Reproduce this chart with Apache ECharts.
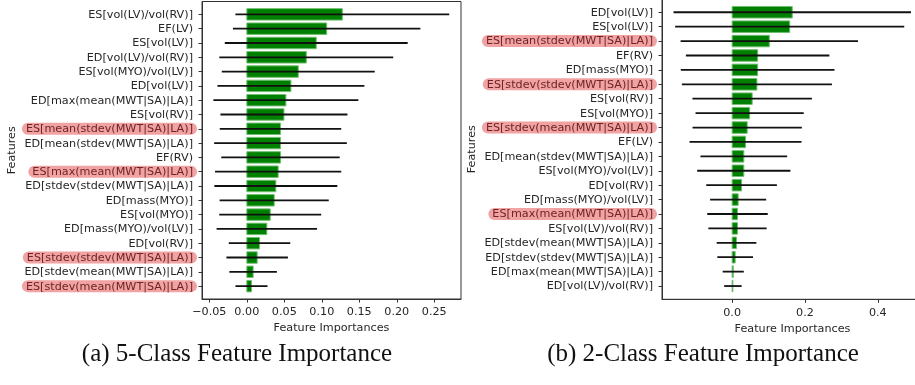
<!DOCTYPE html>
<html>
<head>
<meta charset="utf-8">
<script src="https://cdn.jsdelivr.net/npm/echarts@6/dist/echarts.min.js"></script>
<style>html,body{margin:0;padding:0;background:#fff;}#c{width:915px;height:385px;}</style>
</head>
<body>
<div id="c"></div>
<script>
// ---- Panel (a): 5-class ----
const namesA = [
  'ES[vol(LV)/vol(RV)]','EF(LV)','ES[vol(LV)]','ED[vol(LV)/vol(RV)]','ES[vol(MYO)/vol(LV)]',
  'ED[vol(LV)]','ED[max(mean(MWT|SA)|LA)]','ES[vol(RV)]','ES[mean(stdev(MWT|SA)|LA)]','ED[mean(stdev(MWT|SA)|LA)]',
  'EF(RV)','ES[max(mean(MWT|SA)|LA)]','ED[stdev(stdev(MWT|SA)|LA)]','ED[mass(MYO)]','ES[vol(MYO)]',
  'ED[mass(MYO)/vol(LV)]','ED[vol(RV)]','ES[stdev(stdev(MWT|SA)|LA)]','ED[stdev(mean(MWT|SA)|LA)]','ES[stdev(mean(MWT|SA)|LA)]'
];
const meanA = [0.1274,0.1065,0.0926,0.0793,0.0686,0.0588,0.0521,0.0495,0.0449,0.0449,
               0.0449,0.0418,0.0387,0.0365,0.0312,0.0267,0.0169,0.0138,0.0084,0.0062];
const stdA  = [0.1426,0.1250,0.1220,0.1160,0.1020,0.0980,0.0967,0.0847,0.0810,0.0885,
               0.0790,0.0842,0.0820,0.0728,0.0680,0.0670,0.0410,0.0410,0.0317,0.0214];
const highlightA = ['ES[mean(stdev(MWT|SA)|LA)]','ES[max(mean(MWT|SA)|LA)]','ES[stdev(stdev(MWT|SA)|LA)]','ES[stdev(mean(MWT|SA)|LA)]'];
const ticksA = [-0.05,0,0.05,0.10,0.15,0.20,0.25];

// ---- Panel (b): 2-class ----
const namesB = [
  'ED[vol(LV)]','ES[vol(LV)]','ES[mean(stdev(MWT|SA)|LA)]','EF(RV)','ED[mass(MYO)]',
  'ES[stdev(stdev(MWT|SA)|LA)]','ES[vol(RV)]','ES[vol(MYO)]','ES[stdev(mean(MWT|SA)|LA)]','EF(LV)',
  'ED[mean(stdev(MWT|SA)|LA)]','ES[vol(MYO)/vol(LV)]','ED[vol(RV)]','ED[mass(MYO)/vol(LV)]','ES[max(mean(MWT|SA)|LA)]',
  'ES[vol(LV)/vol(RV)]','ED[stdev(mean(MWT|SA)|LA)]','ED[stdev(stdev(MWT|SA)|LA)]','ED[max(mean(MWT|SA)|LA)]','ED[vol(LV)/vol(RV)]'
];
const meanB = [0.165,0.158,0.102,0.070,0.070,0.068,0.055,0.048,0.0413,0.0367,
               0.032,0.032,0.0258,0.0165,0.0147,0.0147,0.012,0.0083,0.003,0.002];
const stdB  = [0.326,0.3145,0.2435,0.197,0.211,0.206,0.164,0.1485,0.150,0.1537,
               0.119,0.128,0.097,0.077,0.083,0.080,0.0545,0.049,0.029,0.024];
const highlightB = ['ES[mean(stdev(MWT|SA)|LA)]','ES[stdev(stdev(MWT|SA)|LA)]','ES[stdev(mean(MWT|SA)|LA)]','ES[max(mean(MWT|SA)|LA)]'];
const ticksB = [0,0.2,0.4];

const captionA = '(a) 5-Class Feature Importance';
const captionB = '(b) 2-Class Feature Importance';

const FONT = 'DejaVu Sans';
const FS = 11.2;
const n = 20;
const rowIdx = Array.from({length:n},(_,i)=>i);

function toData(means, stds){
  return means.map((m,i)=>[m, stds[i], n-1-i]);
}
function labelFmt(names, hl){
  return function(v){
    const i = n-1-Math.round(v);
    const nm = names[i];
    if (nm === undefined) return '';
    return (hl.indexOf(nm) >= 0 ? '{h|' : '{n|') + nm + '}';
  };
}
const rich = {
  n:{fontFamily:FONT,fontSize:FS,color:'#262626',padding:[1,4,0,4]},
  h:{fontFamily:FONT,fontSize:FS,color:'#6e2424',backgroundColor:'#f1a2a2',borderRadius:7,padding:[1,4,0,4]}
};
function renderItem(params, api){
  const v = api.value(0), s = api.value(1), y = api.value(2);
  const p0 = api.coord([0,y]);
  const p1 = api.coord([v,y]);
  const h = api.size([0,0.8])[1];
  const e0 = api.coord([v-s,y]);
  const e1 = api.coord([v+s,y]);
  return {type:'group',children:[
    {type:'rect',shape:{x:p0[0],y:p0[1]-h/2,width:p1[0]-p0[0],height:h},
     style:{fill:'#008000',stroke:'#6fbf6f',lineWidth:1}},
    {type:'line',shape:{x1:e0[0],y1:e0[1],x2:e1[0],y2:e1[1]},
     style:{stroke:'#111',lineWidth:1.8}}
  ]};
}
function xAxis(idx,min,max,ticks,dec){
  return {type:'value',gridIndex:idx,min:min,max:max,
    name:'Feature Importances',nameLocation:'middle',nameGap:24,
    nameTextStyle:{fontFamily:FONT,fontSize:FS,color:'#262626'},
    axisLine:{show:true,onZero:false,lineStyle:{color:'#333',width:1}},
    axisTick:{show:true,length:3.5,customValues:ticks,lineStyle:{color:'#333'}},
    axisLabel:{show:true,customValues:ticks,margin:8,fontFamily:FONT,fontSize:FS,color:'#262626',
      formatter:v=> (v<0?'\u2212':'')+Math.abs(v).toFixed(dec)},
    splitLine:{show:false}};
}
function yAxis(idx,min,max,names,hl,gap){
  return {type:'value',gridIndex:idx,min:min,max:max,
    name:'Features',nameLocation:'middle',nameGap:gap,
    nameTextStyle:{fontFamily:FONT,fontSize:FS,color:'#262626'},
    axisLine:{show:true,onZero:false,lineStyle:{color:'#333',width:1}},
    axisTick:{show:true,length:3.5,customValues:rowIdx,lineStyle:{color:'#333'}},
    axisLabel:{show:true,customValues:rowIdx,margin:5,formatter:labelFmt(names,hl),rich:rich},
    splitLine:{show:false}};
}

const chart = echarts.init(document.getElementById('c'),null,{renderer:'canvas'});
chart.setOption({
  animation:false,
  backgroundColor:'#fff',
  grid:[
    {left:202,top:1.5,width:259,height:297.5,show:true,borderColor:'#333',borderWidth:1,backgroundColor:'transparent',outerBoundsMode:'none',containLabel:false},
    {left:662,top:-1,width:261,height:300.3,show:true,borderColor:'#333',borderWidth:1,backgroundColor:'transparent',outerBoundsMode:'none',containLabel:false}
  ],
  xAxis:[xAxis(0,-0.0598,0.2857,ticksA,2), xAxis(1,-0.1926,0.524,ticksB,1)],
  yAxis:[yAxis(0,-0.9,19.9,namesA,highlightA,173), yAxis(1,-0.92,19.92,namesB,highlightB,173)],
  series:[
    {type:'custom',xAxisIndex:0,yAxisIndex:0,renderItem:renderItem,data:toData(meanA,stdA),encode:{x:0,y:2}},
    {type:'custom',xAxisIndex:1,yAxisIndex:1,renderItem:renderItem,data:toData(meanB,stdB),encode:{x:0,y:2}}
  ],
  graphic:[
    {type:'text',x:237,y:354,style:{text:captionA,fontFamily:'Liberation Serif',fontSize:25,fill:'#111',align:'center',verticalAlign:'middle'}},
    {type:'text',x:703,y:354,style:{text:captionB,fontFamily:'Liberation Serif',fontSize:25,fill:'#111',align:'center',verticalAlign:'middle'}}
  ]
});
</script>
</body>
</html>
